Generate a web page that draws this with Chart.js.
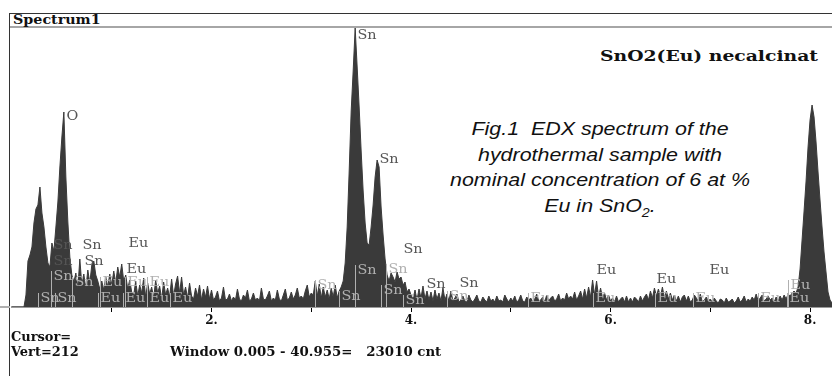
<!DOCTYPE html>
<html lang="en">
<head>
<meta charset="UTF-8">
<title>EDX spectrum SnO2(Eu)</title>
<script src="https://cdn.jsdelivr.net/npm/chart.js"></script>
<style>
    body { margin: 0; width: 832px; height: 376px; background: #fff; position: relative; overflow: hidden; }
    .abs { position: absolute; white-space: pre; }
    .serif { font-family: "DejaVu Serif", serif; font-weight: bold; color: #111; transform-origin: left center; }
    #frame { position: absolute; left: 9px; top: 13px; width: 823px; height: 363px; border-left: 1px solid #333; border-top: 1px solid #333; }
    #headline { position: absolute; left: 10px; top: 26px; width: 822px; height: 2px; background: #a6a6a6; }
    #caption { position: absolute; left: 400px; top: 117px; width: 400px; text-align: center; font: italic 18px "Liberation Sans", Arial, sans-serif; line-height: 25.5px; color: #111; transform: scaleX(1.19); transform-origin: center; }
    #chart { position: absolute; left: 10px; top: 27px; }
</style>
</head>
<body>
<div id="frame"></div>
<div id="headline"></div>
<div class="abs serif" style="left:13px; top:13px; font-size:12px; transform:scaleX(1.19);">Spectrum1</div>
<div class="abs serif" style="left:600px; top:47px; font-size:15px; transform:scaleX(1.25);">SnO2(Eu) necalcinat</div>
<div id="caption">Fig.1&nbsp; EDX spectrum of the<br>hydrothermal sample with<br>nominal concentration of 6 at %<br>Eu in SnO<sub style="font-size:12px; line-height:0;">2</sub>.</div>
<div class="abs" style="left:0; top:306px; width:10px; height:2px; background:#b0b0b0;"></div>
<canvas id="chart" width="822" height="310"></canvas>
<div class="abs serif" style="left:11px; top:330px; font-size:12px; transform:scaleX(1.08);">Cursor=</div>
<div class="abs serif" style="left:11px; top:345px; font-size:12px; transform:scaleX(1.08);">Vert=212</div>
<div class="abs serif" style="left:170px; top:345px; font-size:12px; transform:scaleX(1.11);">Window 0.005 - 40.955=   23010 cnt</div>

<script>
    // spectrum channels: 0.02 keV wide, starting at 0 keV
    const keVStart = 0;
    const keVStep = 0.02;
    const counts = [
        0, 0, 0, 0, 0, 0, 0,
        60, 230, 260, 300,
        420, 490, 510, 600, 470, 400, 300, 220, 200, 320,
        280, 400, 525, 700, 850, 975, 650, 425, 250, 160,
        125, 170, 95, 240, 110, 165, 90, 185, 120, 210,
        230, 160, 130, 90, 130, 85, 150, 100, 165, 110,
        180, 120, 200, 150, 215, 130, 160, 90, 135, 75,
        60, 130, 55, 110, 70, 145, 50, 120, 65, 100,
        45, 135, 70, 105, 40, 125, 60, 95, 50, 140,
        55, 115, 155, 70, 150, 60, 100, 45, 120, 55,
        40, 95, 55, 110, 35, 90, 50, 105, 40, 85,
        35, 50, 80, 30, 45, 100, 35, 40, 65, 30,
        50, 35, 90, 40, 30, 60, 45, 85, 30, 40,
        70, 35, 45, 30, 95, 40, 35, 55, 80, 30,
        45, 35, 85, 40, 30, 60, 90, 35, 45, 75,
        40, 60, 95, 45, 55, 40, 80, 110, 50, 70,
        60, 130, 55, 115, 45, 100, 50, 85, 40, 95,
        50, 110, 45, 80, 100,
        130, 220, 400, 680, 980, 1180, 1395, 1200, 1000, 780,
        580, 420, 320, 310, 400, 510, 650, 735, 700, 500,
        360, 240, 160, 130, 170, 150, 125, 175, 140, 150,
        110, 125, 75, 90, 60,
        40, 85, 35, 90, 45, 105, 40, 80, 35, 75,
        30, 85, 40, 70, 30, 95, 35, 65, 30, 80,
        30, 45, 65, 25, 35, 55, 30, 25, 60, 35,
        25, 40, 60, 30, 25, 50, 35, 25, 55, 30,
        40, 25, 55, 30, 35, 25, 60, 40, 25, 45,
        30, 55, 25, 35, 60, 30, 25, 50, 35, 45,
        25, 40, 65, 30, 35, 50, 25, 60, 30, 45,
        55, 30, 40, 65, 30, 45, 35, 70, 40, 55,
        40, 75, 35, 55, 80, 40, 90, 45, 100, 50,
        135, 60, 130, 50, 95, 45, 70, 35, 60, 30,
        45, 25, 55, 25, 40, 50, 25, 55, 25, 45,
        25, 50, 40, 25, 55, 30, 50, 65, 35, 80,
        45, 95, 55, 90, 50, 100, 45, 80, 40, 70,
        35, 60, 30, 55, 25, 50, 60, 30, 55, 25,
        35, 60, 45, 30, 65, 25, 35, 50, 30, 40,
        25, 45, 30, 20, 40, 35, 20, 45, 25, 30,
        40, 20, 30, 50, 25, 35, 55, 25, 40, 30,
        50, 35, 65, 30, 45, 60, 30, 40, 55, 35,
        45, 25, 50, 30, 55, 35, 60, 40, 65, 55,
        70, 80, 70, 100, 190, 335, 480, 630, 800, 935,
        1010, 950, 825, 675, 535, 400, 275, 175, 75, 35, 20
    ];

    // element line markers (keV, label, label height in counts, d = dark / l = light)
    const markerKeV = [0.52, 3.44, 3.66, 3.90, 0.39, 0.68, 1.14, 0.39, 0.70, 1.12,
        0.39, 0.60, 0.88, 1.13, 1.35, 0.26, 0.43, 0.86, 1.11, 1.35, 1.58,
        3.04, 3.28, 3.44, 3.75, 3.70, 3.92, 4.13, 4.46, 4.36,
        5.83, 6.44, 6.97, 7.78, 5.17, 5.82, 6.45, 6.83, 7.48, 7.77];
    const markerText = ['O', 'Sn', 'Sn', 'Sn', 'Sn', 'Sn', 'Eu', 'Sn', 'Sn', 'Eu',
        'Sn', 'Sn', 'Eu', 'Eu', 'Eu', 'Sn', 'Sn', 'Eu', 'Eu', 'Eu', 'Eu',
        'Sn', 'Sn', 'Sn', 'Sn', 'Sn', 'Sn', 'Sn', 'Sn', 'Sn',
        'Eu', 'Eu', 'Eu', 'Eu', 'Eu', 'Eu', 'Eu', 'Eu', 'Eu', 'Eu'];
    const markerLevel = [950, 1355, 735, 285, 305, 305, 315, 225, 225, 185,
        150, 120, 120, 120, 120, 40, 40, 40, 40, 40, 40,
        105, 50, 180, 185, 80, 30, 110, 115, 50,
        180, 135, 180, 105, 40, 40, 40, 40, 40, 40];
    const markerShade = ['d', 'd', 'd', 'd', 'd', 'd', 'd', 'd', 'd', 'd',
        'l', 'l', 'l', 'l', 'l', 'l', 'l', 'l', 'l', 'l', 'l',
        'l', 'l', 'l', 'l', 'l', 'l', 'd', 'd', 'l',
        'd', 'd', 'd', 'l', 'l', 'l', 'l', 'l', 'l', 'l'];

    const points = counts.map((c, i) => ({x: keVStart + i * keVStep, y: c}));

    const markerPlugin = {
        id: 'markers',
        afterDatasetsDraw(chart) {
            const ctx = chart.ctx;
            const xs = chart.scales.x;
            const ys = chart.scales.y;
            const base = ys.getPixelForValue(0);
            ctx.save();
            ctx.font = '12px "DejaVu Serif"';
            ctx.textBaseline = 'middle';
            for (let i = 0; i < markerKeV.length; i++) {
                const x = Math.round(xs.getPixelForValue(markerKeV[i])) + 0.5;
                const y = ys.getPixelForValue(markerLevel[i]);
                const dark = markerShade[i] === 'd';
                const col = dark ? '#555' : '#b0b0b0';
                if (!dark) {
                    ctx.strokeStyle = col;
                    ctx.lineWidth = 1;
                    ctx.beginPath();
                    ctx.moveTo(x, base);
                    ctx.lineTo(x, y - 6);
                    ctx.stroke();
                }
                ctx.fillStyle = col;
                ctx.save();
                ctx.translate(x + 2, y);
                ctx.scale(1.2, 1);
                ctx.fillText(markerText[i], 0, 0);
                ctx.restore();
            }
            ctx.restore();
        }
    };

    new Chart(document.getElementById('chart'), {
        type: 'line',
        data: {
            datasets: [{
                data: points,
                borderColor: '#3a3a3a',
                backgroundColor: '#3a3a3a',
                borderWidth: 1,
                fill: 'origin',
                pointRadius: 0,
                tension: 0
            }]
        },
        options: {
            responsive: false,
            animation: false,
            devicePixelRatio: 1,
            layout: {padding: 0},
            plugins: {legend: {display: false}, tooltip: {enabled: false}},
            scales: {
                x: {
                    type: 'linear',
                    min: 0,
                    max: 8.22,
                    afterFit: (scale) => { scale.height = 30; },
                    grid: {
                        drawOnChartArea: false,
                        tickLength: 5,
                        tickColor: (c) => (c.tick && c.tick.value === 0) ? 'rgba(0,0,0,0)' : '#000'
                    },
                    border: {display: true, color: '#9a9a9a', width: 2},
                    ticks: {
                        stepSize: 1,
                        includeBounds: false,
                        autoSkip: false,
                        maxRotation: 0,
                        padding: 2,
                        color: '#111',
                        font: {family: 'DejaVu Serif', weight: 'bold', size: 12},
                        callback: (v) => (v > 0 && v % 2 === 0) ? v + '.' : ''
                    }
                },
                y: {display: false, min: 0, max: 1400}
            }
        },
        plugins: [markerPlugin]
    });
</script>
</body>
</html>
